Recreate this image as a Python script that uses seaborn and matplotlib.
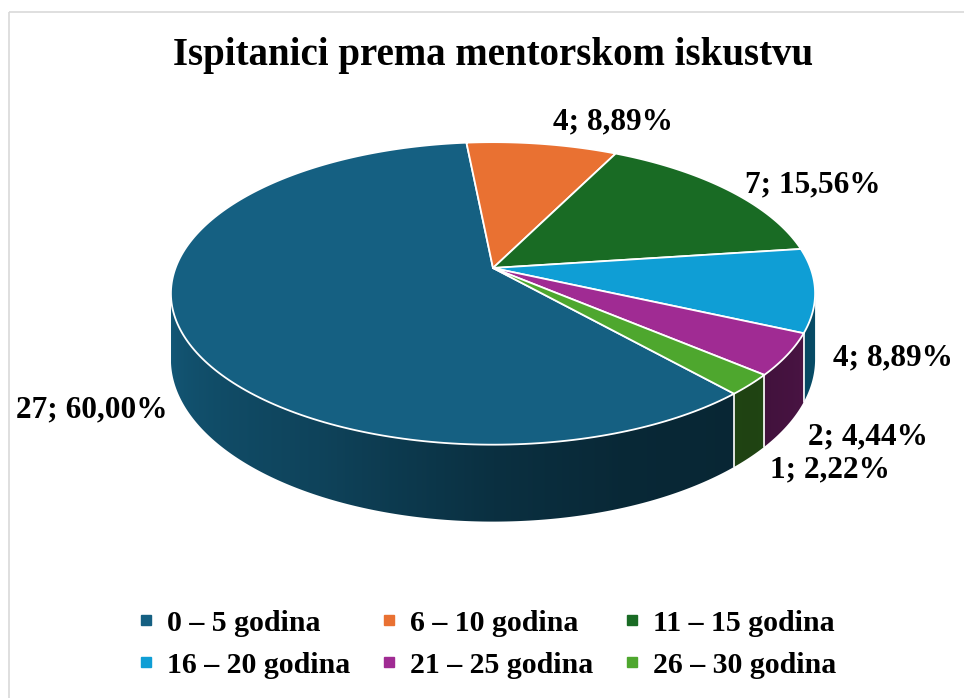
import numpy as np
import matplotlib
matplotlib.use("Agg")
import matplotlib.pyplot as plt
import seaborn as sns
from matplotlib.patches import Polygon, Rectangle
from matplotlib.lines import Line2D

# data
categories = ["0 – 5 godina", "6 – 10 godina", "11 – 15 godina",
              "16 – 20 godina", "21 – 25 godina", "26 – 30 godina"]
counts = [27, 4, 7, 4, 2, 1]
percents = ["60,00%", "8,89%", "15,56%", "8,89%", "4,44%", "2,22%"]
colors = ["#156082", "#E97132", "#196B24", "#0F9ED5", "#A02B93", "#4EA72E"]

# label positions (pixels, anchor x / vertical center) and alignment
label_pos = [(168, 410, "right"), (553, 122, "left"), (745, 185, "left"),
             (833, 358, "left"), (808, 437, "left"), (770, 470, "left")]

# 3d pie geometry (pixels)
CX, CY = 493, 268
A, B, K = 317.5, 147.0, 0.168
H = 64.0
START = -48.4

sns.set_theme(style="white")
plt.rcParams['font.family'] = ['Liberation Serif', 'DejaVu Serif']


def proj(theta):
    t = np.radians(theta)
    X, Y = np.cos(t), np.sin(t)
    d = 1 + K * Y
    return CX + A * X / d, CY - B * Y / d, d


def side_factor(theta):
    th = ((theta + 180) % 360) - 180
    return np.interp(th, [-171, -118, -90, -70, -45, -9],
                     [0.92, 0.70, 0.50, 0.42, 0.40, 0.50])


fig = plt.figure(figsize=(9.64, 6.98), dpi=100)
ax = fig.add_axes([0, 0, 1, 1])
ax.axis("off")

ax.add_patch(Rectangle((9, 12), 1000, 800, fill=False, edgecolor="#d9d9d9", lw=1.2))

total = sum(counts)
spans = [360.0 * c / total for c in counts]
bounds = []
s = START
for sp in spans:
    bounds.append((s, s - sp))
    s -= sp

vis_lo = -180 + np.degrees(np.arcsin(K))   # left extreme
vis_hi = -np.degrees(np.arcsin(K))         # right extreme

# side walls: one polygon per slice, filled with a clipped horizontal gradient
for (a0, a1), col in zip(bounds, colors):
    base = np.array(matplotlib.colors.to_rgb(col))
    for kk in (-1, 0, 1):
        lo = max(a1, vis_lo + 360 * kk)
        hi = min(a0, vis_hi + 360 * kk)
        if hi <= lo:
            continue
        th = np.linspace(lo, hi, 300)
        x, y, d = proj(th)
        yb = y + H / d
        pts = list(zip(x, y)) + list(zip(x[::-1], yb[::-1]))
        poly = Polygon(pts, closed=True, facecolor="none", edgecolor="none")
        ax.add_patch(poly)
        xs = np.linspace(x.min(), x.max(), 400)
        order = np.argsort(x)
        tcol = np.interp(xs, x[order], th[order])
        img = (base[None, :] * side_factor(tcol)[:, None])[None, :, :]
        im = ax.imshow(img, extent=(x.min(), x.max(), yb.max() + 2, y.min() - 2),
                       aspect="auto", interpolation="bilinear")
        im.set_clip_path(poly)

# white seams on the side wall
for a0, _ in bounds:
    for kk in (-1, 0, 1):
        t = a0 - 360 * kk
        if vis_lo < t < vis_hi:
            x, y, d = proj(t)
            ax.plot([x, x], [y, y + H / d], color="white", lw=1.2)

# top face
for (a0, a1), col in zip(bounds, colors):
    th = np.linspace(a0, a1, 200)
    x, y, _ = proj(th)
    pts = [(CX, CY)] + list(zip(x, y))
    ax.add_patch(Polygon(pts, closed=True, facecolor=col, edgecolor="white",
                         lw=1.3, joinstyle="round"))

# data labels
for (lx, ly, ha), c, p in zip(label_pos, counts, percents):
    ax.text(lx, ly, f"{c}; {p}", ha=ha, va="center", fontsize=22.5,
            fontweight="bold", color="black")

ax.text(493, 55, "Ispitanici prema mentorskom iskustvu", ha="center", va="center",
        fontsize=28, fontweight="bold", color="black")

ax.set_xlim(0, 964)
ax.set_ylim(698, 0)

# legend filled row by row
order = [0, 3, 1, 4, 2, 5]
handles = [Line2D([], [], marker="s", linestyle="", color=colors[i], markersize=7.5)
           for i in order]
fig.legend(handles, [categories[i] for i in order], ncol=3, loc="center",
           bbox_to_anchor=(0.505, 0.077), frameon=False,
           prop={"size": 21.5, "weight": "bold"}, labelcolor="black",
           handlelength=0.6, handletextpad=0.4, columnspacing=1.0, labelspacing=0.5)

fig.savefig("out.png", dpi=100)
